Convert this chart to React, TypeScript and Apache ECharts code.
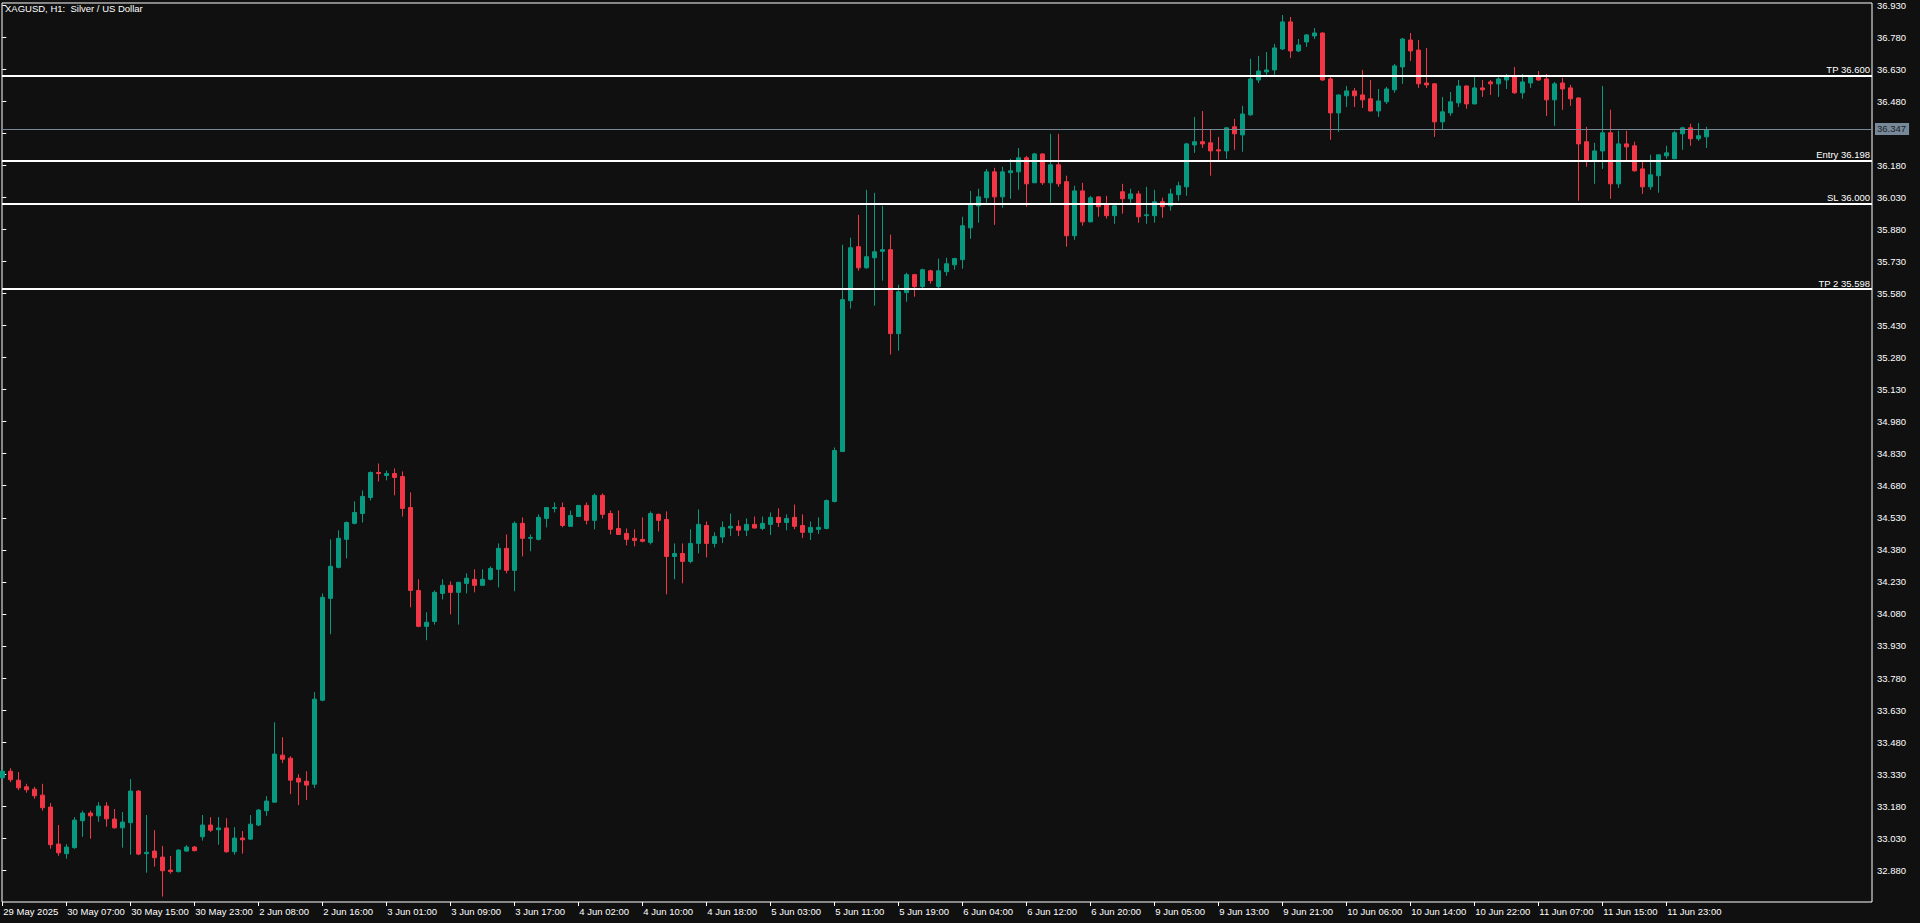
import React, { useEffect, useRef } from 'react';
import * as echarts from 'echarts';

const chartTitle = 'XAGUSD, H1:  Silver / US Dollar';

const timeLabels = [
  '29 May 2025', '30 May 07:00', '30 May 15:00', '30 May 23:00', '2 Jun 08:00', '2 Jun 16:00',
  '3 Jun 01:00', '3 Jun 09:00', '3 Jun 17:00', '4 Jun 02:00', '4 Jun 10:00', '4 Jun 18:00',
  '5 Jun 03:00', '5 Jun 11:00', '5 Jun 19:00', '6 Jun 04:00', '6 Jun 12:00', '6 Jun 20:00',
  '9 Jun 05:00', '9 Jun 13:00', '9 Jun 21:00', '10 Jun 06:00', '10 Jun 14:00', '10 Jun 22:00',
  '11 Jun 07:00', '11 Jun 15:00', '11 Jun 23:00',
];
const barsPerLabel = 8;

const opens = [
  33.313, 33.344, 33.302, 33.271, 33.260, 33.232, 33.176, 33.003, 32.958, 32.986,
  33.112, 33.148, 33.135, 33.181, 33.120, 33.079, 33.103, 33.251, 32.958, 32.970,
  32.942, 32.881, 32.874, 32.970, 32.989, 33.037, 33.092, 33.070, 33.078, 32.967,
  33.031, 33.026, 33.092, 33.159, 33.199, 33.419, 33.405, 33.311, 33.297, 33.283,
  33.676, 34.153, 34.298, 34.429, 34.504, 34.550, 34.625, 34.742, 34.728, 34.737,
  34.723, 34.578, 34.190, 34.022, 34.045, 34.176, 34.214, 34.181, 34.223, 34.242,
  34.214, 34.242, 34.289, 34.387, 34.284, 34.504, 34.434, 34.429, 34.527, 34.574,
  34.578, 34.490, 34.536, 34.588, 34.518, 34.635, 34.550, 34.480, 34.457, 34.434,
  34.429, 34.415, 34.546, 34.522, 34.349, 34.363, 34.326, 34.410, 34.494, 34.410,
  34.440, 34.482, 34.490, 34.472, 34.499, 34.480, 34.499, 34.532, 34.508, 34.532,
  34.494, 34.462, 34.476, 34.480, 34.606, 34.840, 35.546, 35.799, 35.700, 35.747,
  35.777, 35.785, 35.392, 35.584, 35.668, 35.612, 35.686, 35.612, 35.682, 35.714,
  35.738, 35.887, 35.990, 36.028, 36.149, 36.032, 36.145, 36.149, 36.215, 36.098,
  36.233, 36.098, 36.182, 36.103, 35.850, 36.060, 35.915, 36.032, 35.995, 35.944,
  36.056, 36.023, 36.046, 35.944, 35.944, 36.009, 35.990, 36.042, 36.079, 36.275,
  36.290, 36.285, 36.252, 36.247, 36.360, 36.322, 36.416, 36.579, 36.617, 36.626,
  36.724, 36.851, 36.715, 36.757, 36.785, 36.799, 36.584, 36.425, 36.505, 36.528,
  36.509, 36.491, 36.434, 36.477, 36.533, 36.640, 36.766, 36.719, 36.565, 36.561,
  36.383, 36.425, 36.472, 36.551, 36.467, 36.542, 36.570, 36.561, 36.579, 36.593,
  36.519, 36.565, 36.593, 36.584, 36.486, 36.565, 36.542, 36.495, 36.290, 36.201,
  36.247, 36.332, 36.093, 36.280, 36.271, 36.163, 36.079, 36.131, 36.224, 36.210,
  36.327, 36.355, 36.304, 36.313,
];
const highs = [
  33.352, 33.358, 33.340, 33.285, 33.271, 33.285, 33.195, 33.092, 33.003, 33.129,
  33.159, 33.159, 33.199, 33.199, 33.167, 33.153, 33.307, 33.255, 33.139, 33.068,
  32.994, 32.947, 32.978, 32.998, 32.994, 33.139, 33.129, 33.129, 33.124, 33.082,
  33.064, 33.139, 33.167, 33.227, 33.573, 33.503, 33.414, 33.330, 33.344, 33.714,
  34.176, 34.429, 34.471, 34.513, 34.607, 34.658, 34.747, 34.784, 34.751, 34.761,
  34.747, 34.649, 34.242, 34.088, 34.190, 34.242, 34.232, 34.230, 34.270, 34.289,
  34.289, 34.303, 34.410, 34.452, 34.513, 34.532, 34.452, 34.546, 34.580, 34.602,
  34.602, 34.564, 34.590, 34.602, 34.644, 34.644, 34.564, 34.564, 34.480, 34.476,
  34.532, 34.560, 34.550, 34.560, 34.410, 34.410, 34.476, 34.569, 34.513, 34.462,
  34.513, 34.550, 34.518, 34.527, 34.536, 34.536, 34.555, 34.574, 34.546, 34.592,
  34.546, 34.513, 34.532, 34.616, 34.859, 35.808, 35.841, 35.948, 36.065, 36.051,
  35.990, 35.855, 35.621, 35.677, 35.672, 35.696, 35.691, 35.743, 35.747, 35.747,
  35.939, 36.060, 36.070, 36.163, 36.168, 36.173, 36.210, 36.261, 36.224, 36.238,
  36.235, 36.327, 36.327, 36.131, 36.084, 36.098, 36.037, 36.034, 36.037, 35.995,
  36.093, 36.070, 36.060, 36.079, 36.065, 36.028, 36.070, 36.103, 36.285, 36.406,
  36.434, 36.346, 36.313, 36.357, 36.397, 36.458, 36.678, 36.692, 36.710, 36.748,
  36.883, 36.874, 36.771, 36.794, 36.822, 36.802, 36.593, 36.511, 36.551, 36.542,
  36.626, 36.579, 36.537, 36.547, 36.654, 36.776, 36.799, 36.766, 36.729, 36.565,
  36.500, 36.523, 36.579, 36.553, 36.598, 36.579, 36.579, 36.603, 36.607, 36.640,
  36.607, 36.598, 36.621, 36.607, 36.570, 36.589, 36.556, 36.497, 36.360, 36.285,
  36.551, 36.440, 36.341, 36.341, 36.290, 36.205, 36.229, 36.229, 36.271, 36.341,
  36.360, 36.374, 36.378, 36.360,
];
const lows = [
  33.308, 33.293, 33.255, 33.243, 33.215, 33.159, 32.981, 32.948, 32.934, 32.981,
  33.037, 33.028, 33.107, 33.084, 33.075, 32.986, 32.953, 32.951, 32.869, 32.897,
  32.757, 32.864, 32.870, 32.967, 32.969, 33.019, 33.059, 33.000, 32.962, 32.953,
  32.958, 33.022, 33.087, 33.135, 33.197, 33.382, 33.237, 33.185, 33.209, 33.265,
  33.671, 33.985, 34.293, 34.340, 34.499, 34.508, 34.611, 34.700, 34.705, 34.635,
  34.536, 34.111, 34.018, 33.957, 34.030, 34.148, 34.078, 34.030, 34.176, 34.181,
  34.212, 34.237, 34.204, 34.270, 34.186, 34.349, 34.373, 34.424, 34.485, 34.555,
  34.485, 34.488, 34.534, 34.499, 34.476, 34.527, 34.452, 34.450, 34.401, 34.396,
  34.415, 34.405, 34.466, 34.172, 34.242, 34.223, 34.317, 34.363, 34.345, 34.391,
  34.412, 34.444, 34.444, 34.444, 34.480, 34.472, 34.449, 34.487, 34.471, 34.477,
  34.435, 34.426, 34.454, 34.476, 34.602, 34.838, 35.509, 35.686, 35.696, 35.523,
  35.640, 35.294, 35.312, 35.541, 35.565, 35.602, 35.626, 35.602, 35.663, 35.691,
  35.696, 35.836, 35.911, 36.004, 35.901, 35.981, 36.023, 36.065, 35.986, 36.096,
  36.088, 36.004, 36.079, 35.799, 35.831, 35.897, 35.913, 35.939, 35.930, 35.906,
  35.953, 36.000, 35.911, 35.906, 35.911, 35.934, 35.967, 36.014, 36.037, 36.238,
  36.261, 36.131, 36.201, 36.210, 36.252, 36.243, 36.411, 36.565, 36.603, 36.603,
  36.719, 36.682, 36.710, 36.734, 36.771, 36.575, 36.299, 36.336, 36.453, 36.453,
  36.448, 36.432, 36.406, 36.467, 36.519, 36.561, 36.668, 36.542, 36.542, 36.313,
  36.346, 36.411, 36.453, 36.444, 36.465, 36.500, 36.509, 36.500, 36.537, 36.514,
  36.491, 36.542, 36.575, 36.411, 36.364, 36.439, 36.458, 36.014, 36.173, 36.093,
  36.163, 36.023, 36.074, 36.201, 36.149, 36.046, 36.065, 36.051, 36.210, 36.208,
  36.252, 36.271, 36.294, 36.261,
];
const closes = [
  33.344, 33.304, 33.266, 33.257, 33.229, 33.173, 33.000, 32.962, 32.989, 33.115,
  33.148, 33.135, 33.181, 33.121, 33.079, 33.106, 33.251, 32.956, 32.964, 32.939,
  32.878, 32.874, 32.975, 32.989, 32.972, 33.092, 33.068, 33.078, 32.967, 33.031,
  33.023, 33.096, 33.162, 33.204, 33.424, 33.400, 33.302, 33.293, 33.279, 33.681,
  34.158, 34.303, 34.434, 34.508, 34.555, 34.630, 34.742, 34.737, 34.737, 34.719,
  34.574, 34.190, 34.022, 34.041, 34.181, 34.214, 34.181, 34.228, 34.247, 34.214,
  34.242, 34.293, 34.387, 34.284, 34.504, 34.434, 34.438, 34.532, 34.578, 34.578,
  34.494, 34.541, 34.588, 34.518, 34.635, 34.546, 34.476, 34.452, 34.429, 34.424,
  34.420, 34.550, 34.518, 34.349, 34.363, 34.326, 34.410, 34.499, 34.410, 34.443,
  34.485, 34.490, 34.472, 34.499, 34.482, 34.504, 34.532, 34.508, 34.527, 34.490,
  34.462, 34.485, 34.485, 34.611, 34.845, 35.551, 35.794, 35.700, 35.752, 35.775,
  35.785, 35.392, 35.588, 35.668, 35.612, 35.691, 35.640, 35.686, 35.719, 35.743,
  35.897, 35.995, 36.032, 36.149, 36.032, 36.149, 36.154, 36.215, 36.093, 36.233,
  36.098, 36.182, 36.093, 35.850, 36.060, 35.915, 36.028, 35.986, 35.944, 35.990,
  36.023, 36.046, 35.939, 35.948, 36.009, 35.986, 36.046, 36.084, 36.280, 36.290,
  36.280, 36.247, 36.247, 36.355, 36.327, 36.420, 36.584, 36.621, 36.626, 36.729,
  36.851, 36.715, 36.743, 36.790, 36.799, 36.579, 36.425, 36.509, 36.528, 36.505,
  36.486, 36.434, 36.481, 36.537, 36.645, 36.771, 36.715, 36.561, 36.556, 36.383,
  36.430, 36.477, 36.551, 36.467, 36.542, 36.533, 36.561, 36.584, 36.593, 36.519,
  36.570, 36.593, 36.579, 36.486, 36.561, 36.537, 36.491, 36.280, 36.201, 36.247,
  36.332, 36.093, 36.280, 36.266, 36.154, 36.079, 36.135, 36.229, 36.238, 36.332,
  36.355, 36.304, 36.318, 36.347,
];

const priceTicks = [
  32.88, 33.03, 33.18, 33.33, 33.48, 33.63, 33.78, 33.93, 34.08, 34.23, 34.38, 34.53, 34.68, 34.83,
  34.98, 35.13, 35.28, 35.43, 35.58, 35.73, 35.88, 36.03, 36.18, 36.33, 36.48, 36.63, 36.78, 36.93,
];
// 36.330 sits under the bid-price tag in the reference, so only its tick shows
const hiddenPriceLabels = [36.33];

const levelNames = ['TP 36.600', 'Entry 36.198', 'SL 36.000', 'TP 2 35.598'];
const levelValues = [36.6, 36.198, 36.0, 35.598];
const bidPrice = 36.347;

const priceMin = 32.7318;
const priceMax = 36.9394;

const FONT = '"Liberation Sans", Arial, sans-serif';
const BULL = '#089981';
const BEAR = '#f23645';
const BG = '#101010';

export default function App() {
  const ref = useRef<HTMLDivElement>(null);

  useEffect(() => {
    if (!ref.current) return;
    const chart = echarts.init(ref.current, null, { renderer: 'svg' });
    const candles = opens.map((o, i) => [i, o, closes[i], lows[i], highs[i]]);
    const labelPositions = timeLabels.map((_, k) => k * barsPerLabel);
    const priceLabelValues = priceTicks.filter((p) => !hiddenPriceLabels.includes(p));

    const levelLines = levelValues.map((v, k) => ({
      yAxis: v,
      name: levelNames[k],
      lineStyle: { color: '#ffffff', width: 2, type: 'solid' },
      label: {
        show: true,
        position: 'insideEndTop',
        formatter: '{b}',
        color: '#ffffff',
        fontSize: 9.5,
        fontFamily: FONT,
        distance: [2, 1],
      },
    }));

    const bidLine = {
      yAxis: bidPrice,
      name: 'bid',
      lineStyle: { color: '#778899', width: 1, type: 'solid' },
      label: {
        show: true,
        position: 'end',
        formatter: () => bidPrice.toFixed(3),
        color: '#1a2028',
        backgroundColor: '#778899',
        fontSize: 9.5,
        fontFamily: FONT,
        padding: [1, 3, 1, 2],
        distance: 3,
      },
    };

    chart.setOption({
      animation: false,
      backgroundColor: BG,
      title: {
        text: chartTitle,
        left: 5,
        top: 3,
        padding: 0,
        textStyle: { color: '#ffffff', fontSize: 9.5, fontWeight: 'normal', fontFamily: FONT },
      },
      grid: {
        left: 2,
        top: 2,
        right: 48,
        bottom: 21,
        show: true,
        borderColor: '#ffffff',
        borderWidth: 1,
        backgroundColor: 'transparent',
      },
      xAxis: {
        type: 'value',
        min: -0.0375,
        max: 233.7125,
        axisLine: { show: false },
        splitLine: { show: false },
        axisTick: {
          show: true,
          customValues: labelPositions,
          length: 4,
          lineStyle: { color: '#ffffff' },
        },
        axisLabel: {
          customValues: labelPositions,
          formatter: (v: number) => timeLabels[Math.round(v / barsPerLabel)] ?? '',
          align: 'left',
          color: '#ffffff',
          fontSize: 9.5,
          fontFamily: FONT,
          margin: 4,
          padding: [0, 0, 0, 1],
        },
      },
      yAxis: {
        type: 'value',
        position: 'right',
        min: priceMin,
        max: priceMax,
        scale: true,
        axisLine: { show: false },
        splitLine: { show: false },
        axisTick: {
          show: true,
          customValues: priceTicks,
          length: 4,
          lineStyle: { color: '#ffffff' },
        },
        axisLabel: {
          customValues: priceLabelValues,
          formatter: (v: number) => v.toFixed(3),
          color: '#ffffff',
          fontSize: 9.5,
          fontFamily: FONT,
          margin: 5,
        },
      },
      series: [
        {
          type: 'candlestick',
          data: candles,
          encode: { x: 0, y: [1, 2, 3, 4] },
          barWidth: 4,
          itemStyle: {
            color: BULL,
            color0: BEAR,
            borderColor: BULL,
            borderColor0: BEAR,
            borderWidth: 1,
          },
          markLine: {
            silent: true,
            symbol: ['none', 'none'],
            animation: false,
            data: [...levelLines, bidLine],
          },
        },
      ],
    });

    return () => chart.dispose();
  }, []);

  return (
    <div
      ref={ref}
      style={{ position: 'fixed', left: 0, top: 0, width: '1920px', height: '923px', background: BG }}
    />
  );
}
